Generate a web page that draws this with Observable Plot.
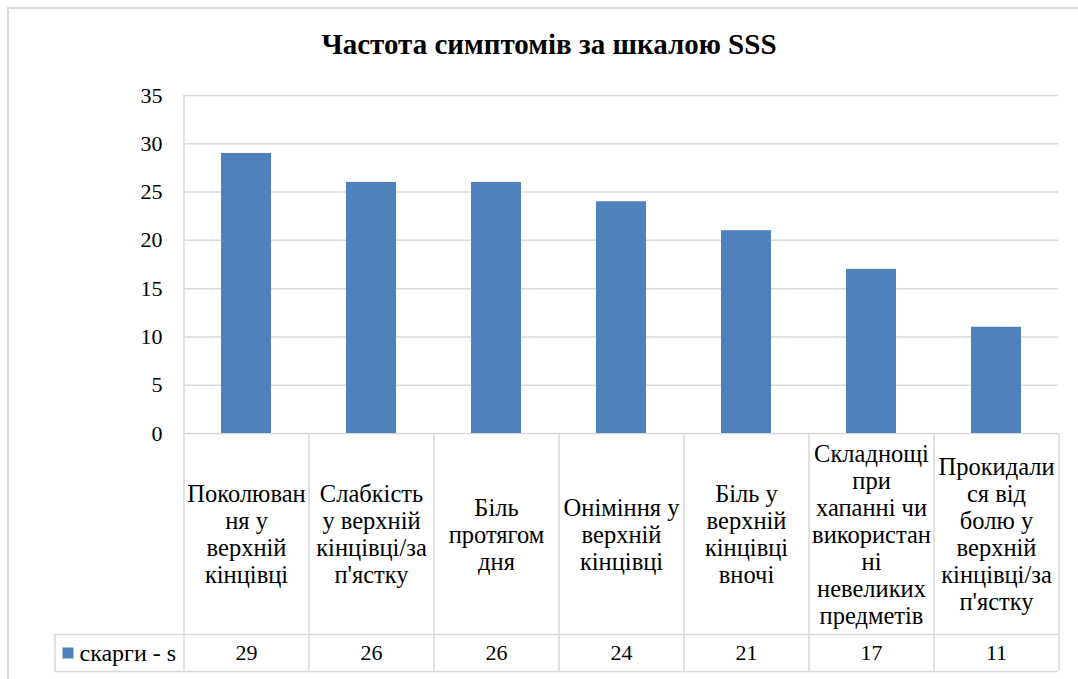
<!DOCTYPE html>
<html>
<head>
<meta charset="utf-8">
<script src="https://cdn.jsdelivr.net/npm/d3@7"></script>
<script src="https://cdn.jsdelivr.net/npm/@observablehq/plot@0.6"></script>
<style>
  html, body { margin: 0; padding: 0; background: #fff; overflow: hidden; }
  #wrap { position: relative; width: 1078px; height: 679px; overflow: hidden; }
  #frame { position: absolute; left: 7px; top: 7px; width: 1200px; height: 800px; border: 2px solid #d9d9d9; box-sizing: border-box; }
  #title { position: absolute; left: 10px; top: 28px; width: 1078px; text-align: center; color: #000; }
  #chart { position: absolute; left: 0; top: 80px; }
</style>
</head>
<body>
<div id="wrap">
  <div id="frame"></div>
  <div id="title" style="font-family:'Liberation Serif'; font-weight:bold; font-size:29px;">Частота симптомів за шкалою SSS</div>
  <div id="chart"></div>
</div>
<script>
// ---- data ----
const categories = [
  "Поколюван\nня у\nверхній\nкінцівці",
  "Слабкість\nу верхній\nкінцівці/за\nп'ястку",
  "Біль\nпротягом\nдня",
  "Оніміння у\nверхній\nкінцівці",
  "Біль у\nверхній\nкінцівці\nвночі",
  "Складнощі\nпри\nхапанні чи\nвикористан\nні\nневеликих\nпредметів",
  "Прокидали\nся від\nболю у\nверхній\nкінцівці/за\nп'ястку"
];
const seriesName = "скарги - s";
const values = [29, 26, 26, 24, 21, 17, 11];
const yTicks = [0, 5, 10, 15, 20, 25, 30, 35];

const rows = categories.map((c, i) => ({category: c, value: values[i]}));

// ---- layout ----
const FONT = "Liberation Serif";
const W = 1078, H = 599;
const mL = 183, mR = 20, mT = 15, mB = 246;
const step = (W - mL - mR) / categories.length;
const half = step / 2;
const headerH = 201;
const valueH = 37;
const legendCellW = 129;
const grid = "#d9d9d9";
const blue = "#4f81bd";
const num = {fontFamily: FONT, fontSize: 22, fill: "#000"};
const lbl = {fontFamily: FONT, fontSize: 24.5, fill: "#000"};

const chart = Plot.plot({
  width: W,
  height: H,
  marginLeft: mL,
  marginRight: mR,
  marginTop: mT,
  marginBottom: mB,
  style: {fontFamily: FONT, fontSize: "22px", color: "#000", background: "transparent"},
  x: {domain: categories, paddingInner: 0.6, paddingOuter: 0.3, axis: null},
  y: {domain: [0, 35], axis: null},
  marks: [
    Plot.ruleY(yTicks, {stroke: grid, strokeWidth: 1.5}),
    Plot.barY(rows, {x: "category", y: "value", fill: blue}),
    Plot.axisY({ticks: yTicks, tickSize: 0, tickPadding: 21, label: null, ...num}),
    Plot.ruleX([categories[0]], {dx: -half, stroke: grid, strokeWidth: 1.5, insetBottom: -(headerH + valueH)}),
    Plot.ruleX(categories.slice(1), {dx: -half, stroke: grid, strokeWidth: 1.5, insetTop: H - mT - mB, insetBottom: -(headerH + valueH)}),
    Plot.ruleX([categories[categories.length - 1]], {dx: half, stroke: grid, strokeWidth: 1.5, insetTop: H - mT - mB, insetBottom: -(headerH + valueH)}),
    Plot.ruleX([categories[0]], {dx: -half - legendCellW, stroke: grid, strokeWidth: 1.5, insetTop: H - mT - mB + headerH, insetBottom: -(headerH + valueH)}),
    Plot.ruleY([0], {dy: headerH, insetLeft: -legendCellW, stroke: grid, strokeWidth: 1.5}),
    Plot.ruleY([0], {dy: headerH + valueH, insetLeft: -legendCellW, stroke: grid, strokeWidth: 1.5}),
    Plot.text(rows, {x: "category", text: "category", frameAnchor: "bottom", dy: headerH / 2, lineAnchor: "middle", lineHeight: 27 / 24.5, ...lbl}),
    Plot.text(rows, {x: "category", text: "value", frameAnchor: "bottom", dy: headerH + valueH / 2, lineAnchor: "middle", ...num}),
    Plot.dot([seriesName], {frameAnchor: "bottom-left", symbol: "square", r: 6.2, fill: blue, dx: 67.5 - mL, dy: headerH + valueH / 2}),
    Plot.text([seriesName], {text: d => d, frameAnchor: "bottom-left", textAnchor: "start", lineAnchor: "middle", dx: 79 - mL, dy: headerH + valueH / 2, ...lbl, fontSize: 24})
  ]
});
document.getElementById("chart").appendChild(chart);
</script>
</body>
</html>
